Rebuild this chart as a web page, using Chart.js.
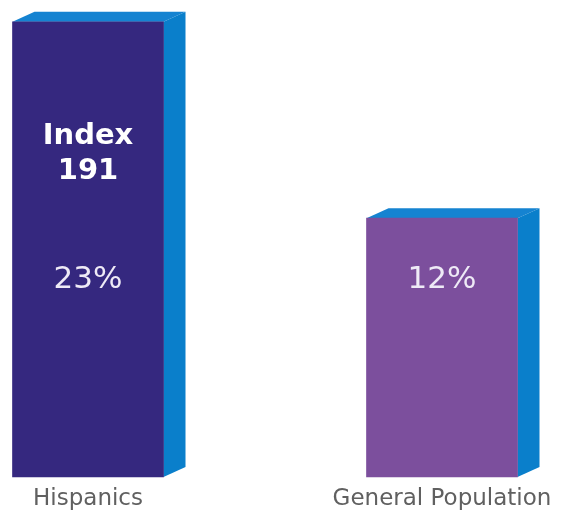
<!DOCTYPE html>
<html>
<head>
<meta charset="utf-8">
<script src="https://cdn.jsdelivr.net/npm/chart.js@4"></script>
<style>
  html, body { margin: 0; padding: 0; background: #fff; }
  #wrap { width: 564px; height: 511px; }
</style>
</head>
<body>
<div id="wrap"><canvas id="myChart"></canvas></div>
<script>
// data
const groups = ['Hispanics', 'General Population'];
const shares = [23, 12];            // percent
const indexValues = [191, null];    // index vs general population
const frontColors = ['#35287f', '#7c4f9d'];
const sideColor = '#0a7fcb';
const topColor = '#1583d1';

// draws the fake depth and the texts inside the bars
const depthPlugin = {
    id: 'depth',
    beforeDatasetsDraw(chart) {
        const ctx = chart.ctx;
        const dx = 22, dy = 10;
        chart.getDatasetMeta(0).data.forEach((bar) => {
            const left = bar.x - bar.width / 2;
            const right = bar.x + bar.width / 2;
            const top = bar.y;
            const bottom = bar.base;
            ctx.save();
            ctx.fillStyle = topColor;
            ctx.beginPath();
            ctx.moveTo(left, top);
            ctx.lineTo(left + dx, top - dy);
            ctx.lineTo(right + dx, top - dy);
            ctx.lineTo(right, top);
            ctx.closePath();
            ctx.fill();
            ctx.fillStyle = sideColor;
            ctx.beginPath();
            ctx.moveTo(right, top);
            ctx.lineTo(right + dx, top - dy);
            ctx.lineTo(right + dx, bottom - dy);
            ctx.lineTo(right, bottom);
            ctx.closePath();
            ctx.fill();
            ctx.restore();
        });
    },
    afterDatasetsDraw(chart) {
        const ctx = chart.ctx;
        const area = chart.chartArea;
        ctx.save();
        ctx.textAlign = 'center';
        ctx.textBaseline = 'middle';
        chart.getDatasetMeta(0).data.forEach((bar, i) => {
            ctx.fillStyle = '#eeeaf6';
            ctx.font = '31px "DejaVu Sans", Verdana, sans-serif';
            ctx.fillText(shares[i] + '%', bar.x, area.bottom - 197);
            if (indexValues[i] !== null) {
                ctx.fillStyle = '#ffffff';
                ctx.font = 'bold 29px "DejaVu Sans", Verdana, sans-serif';
                ctx.fillText('Index', bar.x, area.bottom - 341);
                ctx.fillText(String(indexValues[i]), bar.x, area.bottom - 306);
            }
        });
        ctx.restore();
    }
};

new Chart(document.getElementById('myChart'), {
    type: 'bar',
    data: {
        labels: groups,
        datasets: [{
            data: shares,
            base: -2.5,
            backgroundColor: frontColors,
            borderWidth: 0,
            barThickness: 151,
            clip: false
        }]
    },
    options: {
        responsive: true,
        maintainAspectRatio: false,
        animation: false,
        layout: { padding: { top: 4, left: 88, right: 122, bottom: 0 } },
        plugins: {
            legend: { display: false },
            tooltip: { enabled: false }
        },
        scales: {
            x: {
                offset: false,
                grid: { display: false, drawTicks: false },
                border: { display: false },
                afterFit: (scale) => { scale.height = 34; },
                ticks: {
                    color: '#606060',
                    padding: 8,
                    font: { family: '"DejaVu Sans", Verdana, sans-serif', size: 23 }
                }
            },
            y: {
                display: false,
                min: -2.5,
                max: 24
            }
        }
    },
    plugins: [depthPlugin]
});
</script>
</body>
</html>
